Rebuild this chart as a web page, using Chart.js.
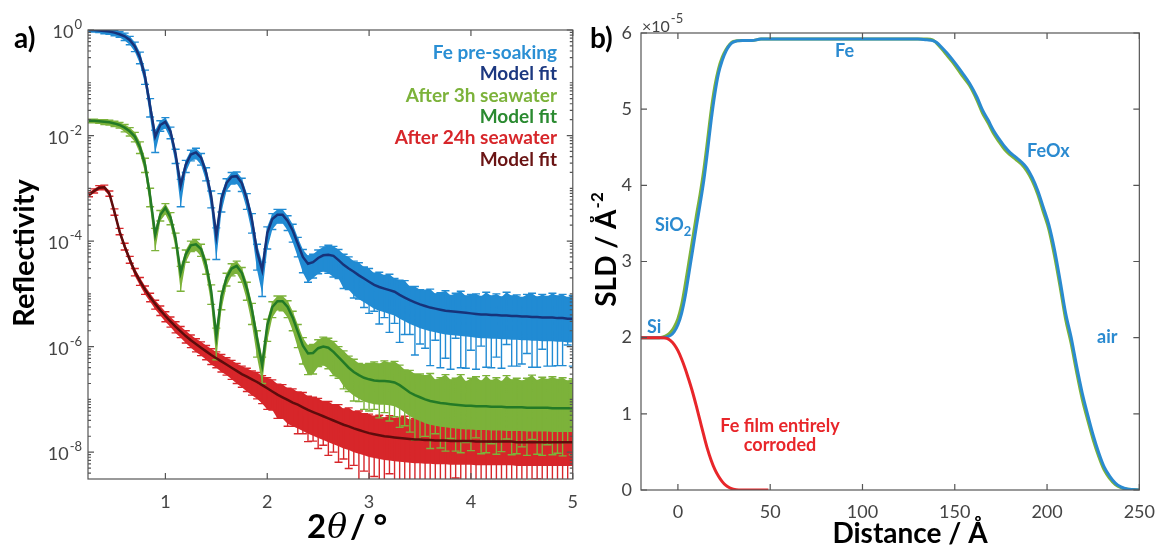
<!DOCTYPE html>
<html>
<head>
<meta charset="utf-8">
<script src="https://cdn.jsdelivr.net/npm/chart.js@4"></script>
<style>
  body { margin: 0; background: #fff; }
  #wrap { position: relative; width: 1166px; height: 548px; }
  canvas { position: absolute; top: 0; }
  #chartA { left: 0; }
  #chartB { left: 590px; }
</style>
</head>
<body>
<div id="wrap">
  <canvas id="chartA" width="590" height="548"></canvas>
  <canvas id="chartB" width="576" height="548"></canvas>
</div>
<script>
// ---- panel a) reflectivity, values are log10(R) ----
const twoTheta = [0.25,0.30,0.35,0.40,0.45,0.50,0.55,0.60,0.65,0.70,0.75,0.80,0.85,0.90,0.95,1.00,1.05,1.10,1.15,1.20,
  1.25,1.30,1.35,1.40,1.45,1.50,1.55,1.60,1.65,1.70,1.75,1.80,1.85,1.90,1.95,2.00,2.05,2.10,2.15,2.20,
  2.25,2.30,2.35,2.40,2.45,2.50,2.55,2.60,2.65,2.70,2.75,2.80,2.85,2.90,2.95,3.00,3.05,3.10,3.15,3.20,
  3.25,3.30,3.35,3.40,3.45,3.50,3.55,3.60,3.65,3.70,3.75,3.80,3.85,3.90,3.95,4.00,4.05,4.10,4.15,4.20,
  4.25,4.30,4.35,4.40,4.45,4.50,4.55,4.60,4.65,4.70,4.75,4.80,4.85,4.90,4.95,5.00];

const feFit = [0.00,0.00,-0.01,-0.02,-0.03,-0.05,-0.08,-0.12,-0.19,-0.31,
  -0.52,-0.88,-1.45,-2.02,-1.80,-1.74,-1.92,-2.35,-2.95,-2.55,
  -2.36,-2.32,-2.42,-2.70,-3.15,-3.90,-3.20,-2.90,-2.78,-2.77,
  -2.90,-3.20,-3.60,-4.20,-4.55,-3.85,-3.58,-3.50,-3.50,-3.62,
  -3.80,-4.05,-4.30,-4.43,-4.40,-4.32,-4.27,-4.26,-4.28,-4.36,
  -4.45,-4.52,-4.58,-4.65,-4.71,-4.77,-4.83,-4.87,-4.90,-4.93,
  -4.96,-5.02,-5.07,-5.12,-5.16,-5.20,-5.23,-5.26,-5.28,-5.30,
  -5.32,-5.33,-5.34,-5.35,-5.36,-5.37,-5.38,-5.39,-5.39,-5.40,
  -5.40,-5.41,-5.41,-5.42,-5.42,-5.43,-5.43,-5.44,-5.44,-5.45,
  -5.45,-5.45,-5.46,-5.46,-5.47,-5.47];
const feUp = [.03,.03,.03,.03,.04,.04,.05,.06,.07,.08, .10,.12,.15,.12,.08,.08,.08,.09,.12,.08,
  .08,.08,.08,.09,.10,.15,.10,.08,.08,.08, .09,.10,.12,.14,.15,.12,.10,.10,.10,.10,
  .12,.12,.14,.15,.15,.15,.16,.18,.18,.20, .20,.22,.20,.24,.22,.25,.22,.28,.25,.30,
  .25,.28,.32,.26,.30,.28,.30,.35,.28,.32, .38,.30,.35,.40,.32,.36,.38,.34,.42,.36,
  .40,.35,.44,.38,.40,.36,.42,.45,.38,.44, .40,.46,.42,.45,.40,.44];
const feDown = [.04,.04,.04,.05,.05,.06,.06,.08,.09,.10, .12,.15,.20,.30,.12,.12,.14,.18,.40,.15,
  .12,.12,.14,.16,.22,.45,.25,.15,.14,.14, .16,.20,.25,.35,.50,.30,.20,.16,.16,.18,
  .22,.25,.30,.35,.30,.30,.30,.35,.40,.35, .45,.40,.50,.45,.55,.60,.50,.70,.55,.80,
  .60,.90,.70,.65,1.0,.75,.80,1.1,.60,1.1, .90,1.1,.50,1.05,1.05,.70,1.05,.60,1.0,1.0,
  .80,1.0,.55,.95,.95,.90,.70,.95,.95,.60, .92,.92,.90,.90,.50,.90];

const h3Fit = [-1.72,-1.72,-1.73,-1.74,-1.75,-1.77,-1.80,-1.85,-1.92,-2.02,
  -2.22,-2.55,-3.15,-3.88,-3.50,-3.37,-3.55,-3.95,-4.60,-4.25,
  -4.08,-4.06,-4.15,-4.45,-4.95,-5.80,-5.05,-4.70,-4.52,-4.47,
  -4.60,-4.90,-5.30,-5.85,-6.35,-5.60,-5.25,-5.14,-5.14,-5.25,
  -5.45,-5.72,-5.98,-6.13,-6.12,-6.03,-6.00,-6.02,-6.10,-6.20,
  -6.30,-6.40,-6.48,-6.54,-6.59,-6.62,-6.64,-6.65,-6.65,-6.66,
  -6.68,-6.73,-6.80,-6.87,-6.92,-6.96,-7.00,-7.03,-7.05,-7.07,
  -7.08,-7.09,-7.10,-7.11,-7.12,-7.12,-7.13,-7.13,-7.13,-7.14,
  -7.14,-7.14,-7.15,-7.15,-7.15,-7.15,-7.16,-7.16,-7.16,-7.16,
  -7.16,-7.17,-7.17,-7.17,-7.17,-7.17];
const h3Up = [.03,.03,.03,.04,.04,.04,.05,.06,.07,.08, .10,.12,.15,.12,.08,.08,.09,.10,.12,.08,
  .08,.09,.09,.10,.12,.15,.10,.09,.09,.09, .10,.12,.12,.15,.15,.12,.10,.10,.10,.12,
  .12,.14,.15,.15,.16,.16,.18,.18,.20,.20, .22,.22,.24,.22,.25,.30,.35,.32,.38,.35,
  .40,.38,.36,.42,.40,.44,.45,.52,.42,.48, .55,.46,.50,.58,.46,.52,.56,.48,.58,.50,
  .55,.48,.60,.52,.55,.50,.56,.62,.52,.58, .54,.60,.55,.58,.52,.56];
const h3Down = [.04,.04,.04,.05,.05,.06,.06,.08,.09,.10, .12,.15,.20,.30,.12,.12,.14,.18,.35,.15,
  .12,.12,.14,.18,.25,.45,.25,.15,.14,.14, .18,.22,.28,.35,.35,.30,.20,.16,.18,.20,
  .25,.30,.35,.40,.40,.35,.35,.40,.45,.40, .50,.45,.55,.50,.60,.60,.55,.70,.60,.75,
  .65,.80,.70,.75,.85,.80,.70,.90,.60,.85, .90,.65,.88,.90,.70,.85,.60,.90,.88,.70,
  .90,.85,.60,.90,.88,.75,.90,.60,.88,.90, .70,.88,.85,.90,.65,.88];

const h24Fit = [-3.12,-3.05,-2.99,-2.98,-3.10,-3.45,-3.82,-4.10,-4.35,-4.58,
  -4.76,-4.92,-5.06,-5.19,-5.31,-5.42,-5.52,-5.62,-5.71,-5.80,
  -5.88,-5.95,-6.02,-6.09,-6.16,-6.22,-6.28,-6.34,-6.40,-6.46,
  -6.52,-6.57,-6.62,-6.67,-6.73,-6.79,-6.85,-6.91,-6.96,-7.01,
  -7.06,-7.10,-7.15,-7.20,-7.24,-7.28,-7.32,-7.36,-7.40,-7.44,
  -7.48,-7.51,-7.55,-7.58,-7.61,-7.64,-7.66,-7.68,-7.70,-7.71,
  -7.72,-7.73,-7.74,-7.75,-7.76,-7.76,-7.77,-7.77,-7.78,-7.78,
  -7.78,-7.79,-7.79,-7.79,-7.79,-7.79,-7.80,-7.80,-7.80,-7.80,
  -7.80,-7.80,-7.80,-7.80,-7.81,-7.81,-7.81,-7.81,-7.81,-7.81,
  -7.81,-7.81,-7.81,-7.81,-7.81,-7.81];
const h24Up = [.04,.04,.04,.04,.05,.06,.06,.06,.06,.06, .07,.07,.07,.07,.08,.08,.08,.09,.09,.10,
  .10,.10,.11,.11,.12,.12,.13,.13,.14,.14, .15,.16,.16,.18,.18,.20,.22,.20,.24,.22,
  .26,.24,.28,.26,.28,.30,.28,.32,.30,.34, .30,.35,.32,.36,.34,.36,.34,.38,.35,.40,
  .36,.38,.42,.36,.40,.38,.55,.62,.50,.58, .65,.52,.60,.68,.55,.62,.66,.56,.70,.60,
  .64,.54,.70,.60,.66,.56,.68,.72,.58,.64, .62,.70,.64,.68,.58,.64];
const h24Down = [.04,.04,.04,.05,.05,.06,.06,.07,.07,.08, .08,.09,.09,.10,.10,.11,.11,.12,.12,.13,
  .14,.15,.15,.16,.18,.18,.20,.20,.22,.24, .25,.28,.30,.32,.35,.40,.35,.45,.40,.50,
  .45,.55,.50,.60,.55,.65,.55,.70,.60,.75, .65,.80,.70,1.0,.75,1.2,.80,1.2,.90,.70,
  1.2,.90,1.2,.80,1.2,.90,1.2,.80,1.2,1.2, .90,1.2,.70,1.2,1.2,.90,1.2,.80,1.2,1.2,
  .90,1.2,1.2,.80,1.2,.90,1.2,1.2,.70,1.2, 1.2,.90,1.2,1.2,.80,1.2];

const xTicksA = [1, 2, 3, 4, 5];
const yExpA = [0, -2, -4, -6, -8];

// ---- panel b) SLD profiles, values in units of 1e-5 A^-2 ----
const depth = [-20,-15,-10,-8,-6,-4,-2,0,2,4,6,8,10,12,14,16,18,20,22,24,26,28,30,35,40,45,50,
  60,80,100,120,130,135,138,140,143,146,150,154,158,162,165,168,171,174,177,180,183,186,189,192,
  195,198,201,204,207,210,213,216,219,222,225,228,231,234,237,240,244,250];
const sldPre = [2.00,2.00,2.00,2.00,2.01,2.03,2.08,2.17,2.32,2.55,2.85,3.15,3.46,3.75,4.06,4.44,4.85,5.20,5.47,
  5.64,5.76,5.84,5.88,5.90,5.90,5.92,5.92,5.92,5.92,5.92,5.92,5.92,5.91,5.90,5.88,5.81,5.73,5.61,5.48,5.34,
  5.16,4.99,4.86,4.72,4.61,4.51,4.43,4.37,4.31,4.23,4.10,3.93,3.71,3.48,3.16,2.76,2.33,2.01,1.63,1.28,0.99,
  0.72,0.49,0.30,0.18,0.09,0.04,0.01,0.00];
const sld3h = [2.00,2.00,2.00,2.01,2.03,2.07,2.14,2.25,2.43,2.70,3.00,3.30,3.60,3.88,4.20,4.58,4.98,5.30,5.53,
  5.68,5.78,5.85,5.89,5.90,5.90,5.92,5.92,5.92,5.92,5.92,5.92,5.92,5.92,5.91,5.87,5.79,5.70,5.58,5.44,5.31,
  5.12,4.95,4.82,4.68,4.57,4.47,4.40,4.34,4.28,4.19,4.06,3.88,3.65,3.42,3.08,2.68,2.25,1.93,1.55,1.20,0.92,
  0.66,0.44,0.26,0.15,0.07,0.03,0.01,0.00];
const depth24 = [-20,-15,-10,-8,-6,-4,-2,0,2,4,6,8,10,12,14,16,18,20,22,24,26,28,30,33,40,49];
const sld24h = [2.00,2.00,2.00,2.00,1.99,1.96,1.91,1.83,1.72,1.59,1.44,1.28,1.10,0.91,0.72,0.54,0.39,0.27,
  0.18,0.11,0.06,0.03,0.01,0.00,0.00,0.00];

const xTicksB = [0, 50, 100, 150, 200, 250];
const yTicksB = [0, 1, 2, 3, 4, 5, 6];

const FONT = 'Lato, "Open Sans", sans-serif';
const TICK = '#444';
const AXIS = '#555';

const measured = [
  { fit: h24Fit, up: h24Up, dn: h24Down, color: '#d7262a' },
  { fit: h3Fit, up: h3Up, dn: h3Down, color: '#7cb23a' },
  { fit: feFit, up: feUp, dn: feDown, color: '#218bd3' }
];

function pts(xs, ys, f) {
  return xs.map((x, i) => ({ x: x, y: f ? f(ys[i]) : ys[i] }));
}
const pow10 = v => Math.pow(10, v);

// box with inward ticks, like the matlab axes
function frame(xMajor, yMajor, yMinor) {
  return {
    id: 'frame',
    afterDatasetsDraw(chart) {
      const { ctx, chartArea: a, scales: { x, y } } = chart;
      ctx.save();
      ctx.strokeStyle = AXIS;
      ctx.lineWidth = 1.2;
      ctx.strokeRect(a.left, a.top, a.right - a.left, a.bottom - a.top);
      ctx.beginPath();
      xMajor.forEach(v => {
        const p = x.getPixelForValue(v);
        ctx.moveTo(p, a.bottom); ctx.lineTo(p, a.bottom - 6);
        ctx.moveTo(p, a.top); ctx.lineTo(p, a.top + 6);
      });
      yMajor.forEach(v => {
        const p = y.getPixelForValue(v);
        ctx.moveTo(a.left, p); ctx.lineTo(a.left + 6, p);
        ctx.moveTo(a.right, p); ctx.lineTo(a.right - 6, p);
      });
      yMinor.forEach(v => {
        const p = y.getPixelForValue(v);
        if (p < a.top || p > a.bottom) return;
        ctx.moveTo(a.left, p); ctx.lineTo(a.left + 3, p);
        ctx.moveTo(a.right, p); ctx.lineTo(a.right - 3, p);
      });
      ctx.stroke();
      ctx.restore();
    }
  };
}

// measured data: dense error bars, the inner part of the band is solid
const errorBars = {
  id: 'errorBars',
  beforeDatasetsDraw(chart) {
    const { ctx, chartArea: a, scales: { x, y } } = chart;
    ctx.save();
    ctx.beginPath();
    ctx.rect(a.left, a.top, a.right - a.left, a.bottom - a.top);
    ctx.clip();
    measured.forEach(s => {
      const px = twoTheta.map(t => x.getPixelForValue(t));
      const top = s.fit.map((f, i) => y.getPixelForValue(pow10(f + s.up[i])));
      const core = s.fit.map((f, i) => y.getPixelForValue(pow10(f - Math.min(s.dn[i], 0.45))));
      const bot = s.fit.map((f, i) => y.getPixelForValue(pow10(f - s.dn[i])));
      ctx.fillStyle = s.color;
      ctx.beginPath();
      px.forEach((p, i) => { if (i === 0) ctx.moveTo(p, top[i]); else ctx.lineTo(p, top[i]); });
      for (let i = px.length - 1; i >= 0; i--) ctx.lineTo(px[i], core[i]);
      ctx.closePath();
      ctx.fill();
      ctx.strokeStyle = s.color;
      ctx.lineWidth = 1.4;
      ctx.beginPath();
      px.forEach((p, i) => {
        ctx.moveTo(p, top[i]); ctx.lineTo(p, bot[i]);
        ctx.moveTo(p - 4, top[i]); ctx.lineTo(p + 4, top[i]);
        ctx.moveTo(p - 4, bot[i]); ctx.lineTo(p + 4, bot[i]);
      });
      ctx.stroke();
    });
    ctx.restore();
  }
};

function superText(ctx, base, sup, x, y, bigFont, smallFont, rise) {
  ctx.font = bigFont;
  const w = ctx.measureText(base).width;
  ctx.fillText(base, x, y);
  ctx.font = smallFont;
  ctx.fillText(sup, x + w + 1, y - rise);
}

const labelsA = {
  id: 'labelsA',
  afterDraw(chart) {
    const { ctx, scales: { y } } = chart;
    ctx.save();
    ctx.fillStyle = TICK;
    ctx.textBaseline = 'alphabetic';
    yExpA.forEach(e => {
      const p = y.getPixelForValue(pow10(e));
      const sup = e === 0 ? '0' : '-' + (-e);
      ctx.font = '13px ' + FONT;
      const sw = ctx.measureText(sup).width;
      ctx.font = '18px ' + FONT;
      const bw = ctx.measureText('10').width;
      const right = 82;
      ctx.fillText('10', right - sw - bw - 1, p + 8);
      ctx.font = '13px ' + FONT;
      ctx.fillText(sup, right - sw, p - 1);
    });
    // panel letter
    ctx.fillStyle = '#000';
    ctx.font = 'bold 28px ' + FONT;
    ctx.fillText('a)', 14, 48);
    // y title
    ctx.save();
    ctx.translate(34, 253);
    ctx.rotate(-Math.PI / 2);
    ctx.textAlign = 'center';
    ctx.font = 'bold 29px ' + FONT;
    ctx.fillText('Reflectivity', 0, 0);
    ctx.restore();
    // x title 2θ / °
    let x0 = 307;
    ctx.font = 'bold 33px ' + FONT;
    ctx.fillText('2', x0, 538);
    x0 += ctx.measureText('2').width + 1;
    ctx.font = 'italic 33px "DejaVu Serif", serif';
    ctx.fillText('θ', x0, 538);
    x0 += ctx.measureText('θ').width + 3;
    ctx.font = 'bold 33px ' + FONT;
    ctx.fillText('/ °', x0, 538);
    // legend text
    const legend = [
      ['Fe pre-soaking', '#2a8fd4', 59],
      ['Model fit', '#1c3880', 80],
      ['After 3h seawater', '#7cb23a', 102],
      ['Model fit', '#2a8a30', 123],
      ['After 24h seawater', '#d7262a', 144],
      ['Model fit', '#6a1414', 166]
    ];
    ctx.textAlign = 'right';
    ctx.font = 'bold 19px ' + FONT;
    legend.forEach(l => {
      ctx.fillStyle = l[1];
      ctx.fillText(l[0], 557, l[2]);
    });
    ctx.restore();
  }
};

const labelsB = {
  id: 'labelsB',
  afterDraw(chart) {
    const { ctx } = chart;
    ctx.save();
    ctx.textBaseline = 'alphabetic';
    ctx.fillStyle = TICK;
    superText(ctx, '×10', '-5', 52, 32, '16px ' + FONT, '13px ' + FONT, 9);
    ctx.fillStyle = '#000';
    ctx.font = 'bold 28px ' + FONT;
    ctx.fillText('b)', 0, 48);
    // y title
    ctx.save();
    ctx.font = 'bold 28px ' + FONT;
    const w1 = ctx.measureText('SLD / Å').width;
    ctx.font = 'bold 17px ' + FONT;
    const w2 = ctx.measureText('-2').width;
    ctx.translate(26, 250);
    ctx.rotate(-Math.PI / 2);
    superText(ctx, 'SLD / Å', '-2', -(w1 + w2) / 2, 0, 'bold 28px ' + FONT, 'bold 17px ' + FONT, 13);
    ctx.restore();
    // x title
    ctx.textAlign = 'center';
    ctx.font = 'bold 28px ' + FONT;
    ctx.fillText('Distance / Å', 320, 543);
    // annotations
    ctx.font = 'bold 18px ' + FONT;
    ctx.fillStyle = '#2a8ad0';
    ctx.textAlign = 'left';
    ctx.fillText('Fe', 245, 57);
    ctx.fillText('FeOx', 437, 157);
    ctx.fillText('Si', 57, 333);
    ctx.fillText('air', 507, 343);
    ctx.fillText('SiO', 65, 231);
    const wSiO = ctx.measureText('SiO').width;
    ctx.font = 'bold 13px ' + FONT;
    ctx.fillText('2', 65 + wSiO, 236);
    ctx.font = 'bold 18px ' + FONT;
    ctx.fillStyle = '#e8262a';
    ctx.textAlign = 'center';
    ctx.fillText('Fe film entirely', 190, 432);
    ctx.fillText('corroded', 190, 451);
    ctx.restore();
  }
};

const fitLine = (label, data, color) => ({
  label: label, data: data, borderColor: color, borderWidth: 2.5,
  pointRadius: 0, tension: 0, fill: false
});

const chartA = new Chart(document.getElementById('chartA'), {
  type: 'line',
  data: {
    datasets: [
      fitLine('Model fit 24h', pts(twoTheta, h24Fit, pow10), '#5e0c0c'),
      fitLine('Model fit 3h', pts(twoTheta, h3Fit, pow10), '#237a26'),
      fitLine('Model fit pre-soaking', pts(twoTheta, feFit, pow10), '#17337a')
    ]
  },
  options: {
    responsive: false,
    animation: false,
    layout: { padding: { top: 30, right: 12, left: 0, bottom: 0 } },
    plugins: { legend: { display: false }, tooltip: { enabled: false } },
    scales: {
      x: {
        type: 'linear', min: 0.24, max: 5,
        afterBuildTicks: s => { s.ticks = xTicksA.map(v => ({ value: v })); },
        afterFit: s => { s.height = 69; },
        grid: { display: false, drawTicks: false, tickLength: 0 },
        border: { display: false },
        ticks: { color: TICK, padding: 12, maxRotation: 0, font: { family: FONT, size: 18 } }
      },
      y: {
        type: 'logarithmic', min: 3.1e-9, max: 1,
        afterBuildTicks: s => { s.ticks = yExpA.map(e => ({ value: pow10(e) })); },
        afterFit: s => { s.width = 88; },
        grid: { display: false, drawTicks: false, tickLength: 0 },
        border: { display: false },
        ticks: { display: false }
      }
    }
  },
  plugins: [
    errorBars,
    frame(xTicksA, yExpA.map(pow10),
      [-9, -8, -7, -6, -5, -4, -3, -2, -1].flatMap(n => [2, 3, 4, 5, 6, 7, 8, 9].map(k => k * pow10(n))).concat([1e-1, 1e-3, 1e-5, 1e-7])),
    labelsA
  ]
});

const sldLine = (label, xs, ys, color) => ({
  label: label, data: pts(xs, ys), borderColor: color, borderWidth: 3,
  pointRadius: 0, cubicInterpolationMode: 'monotone', fill: false
});

const chartB = new Chart(document.getElementById('chartB'), {
  type: 'line',
  data: {
    datasets: [
      sldLine('After 24h seawater', depth24, sld24h, '#e8262a'),
      sldLine('Fe pre-soaking', depth, sldPre, '#2a8ad0'),
      sldLine('After 3h seawater', depth, sld3h, '#7cb23a')
    ]
  },
  options: {
    responsive: false,
    animation: false,
    layout: { padding: { top: 33, right: 18, left: 0, bottom: 0 } },
    plugins: { legend: { display: false }, tooltip: { enabled: false } },
    scales: {
      x: {
        type: 'linear', min: -20, max: 250,
        afterBuildTicks: s => { s.ticks = xTicksB.map(v => ({ value: v })); },
        afterFit: s => { s.height = 58; },
        grid: { display: false, drawTicks: false, tickLength: 0 },
        border: { display: false },
        ticks: { color: TICK, padding: 11, maxRotation: 0, font: { family: FONT, size: 18 } }
      },
      y: {
        type: 'linear', min: 0, max: 6,
        afterBuildTicks: s => { s.ticks = yTicksB.map(v => ({ value: v })); },
        afterFit: s => { s.width = 51; },
        grid: { display: false, drawTicks: false, tickLength: 0 },
        border: { display: false },
        ticks: { color: TICK, padding: 9, font: { family: FONT, size: 18 } }
      }
    }
  },
  plugins: [frame(xTicksB, yTicksB, []), labelsB]
});
</script>
</body>
</html>
